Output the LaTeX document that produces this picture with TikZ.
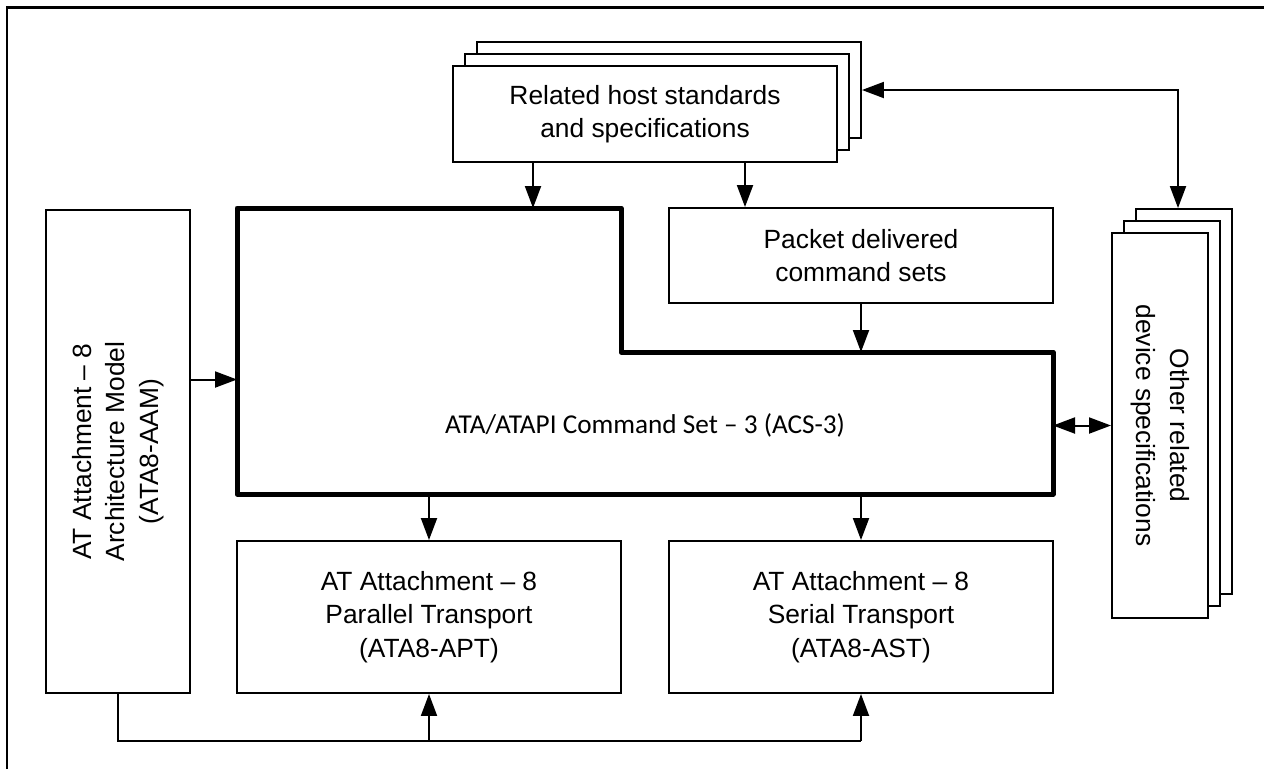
\documentclass[tikz,border=0pt]{standalone}
\usepackage{fontspec}
\usepackage{graphicx}
\usetikzlibrary{calc,shadows,arrows.meta}
\newfontfamily\arialfont{Liberation Sans}
\newfontfamily\calibrifont{Carlito}

\tikzset{
	box/.style={draw, fill=white, line width=0.04cm, inner sep=0pt, align=center, font=\arialfont\fontsize{15}{19}\selectfont},
	stack/.style={box, double copy shadow={shadow xshift=0.24cm, shadow yshift=0.24cm}},
	arr/.style={line width=0.04cm, -{Triangle[length=0.44cm, width=0.32cm]}},
	dblarr/.style={line width=0.04cm, {Triangle[length=0.44cm, width=0.32cm]}-{Triangle[length=0.44cm, width=0.32cm]}}
}

\begin{document}
\begin{tikzpicture}[x=0.02cm, y=-0.02cm]
\useasboundingbox (0,0) rectangle (1264,769);

% Frame
\draw[line width=0.06cm] (7,769) -- (7,7) -- (1264,7);

% Stacked documents
\node[stack, minimum width=7.68cm, minimum height=1.92cm] (host) at (645,114) {Related host standards\\and specifications};
\node[stack, minimum width=1.92cm, minimum height=7.7cm] (other) at (1160,425.5) {\rotatebox{-90}{\begin{tabular}{@{}c@{}}Other related\\device specifications\end{tabular}}};

% Boxes
\node[box, minimum width=7.68cm, minimum height=1.9cm] (packet) at (861,255.5) {Packet delivered\\command sets};
\node[box, minimum width=2.88cm, minimum height=9.66cm] (aam) at (118,451.5) {\rotatebox{90}{\begin{tabular}{@{}c@{}}AT Attachment – 8\\Architecture Model\\(ATA8-AAM)\end{tabular}}};
\node[box, minimum width=7.68cm, minimum height=3.04cm] (apt) at (429,617) {AT Attachment – 8\\Parallel Transport\\(ATA8-APT)};
\node[box, minimum width=7.68cm, minimum height=3.04cm] (ast) at (861,617) {AT Attachment – 8\\Serial Transport\\(ATA8-AST)};

% Command set outline
\coordinate (acsNW) at (237,208);
\coordinate (acsN) at (621,208);
\coordinate (acsNotch) at (621,352);
\coordinate (acsE) at (1053,352);
\coordinate (acsSE) at (1053,494);
\coordinate (acsSW) at (237,494);
\draw[line width=0.1cm, line join=round] (acsSW) -- (acsNW) -- (acsN) -- (acsNotch) -- (acsE) -- (acsSE) -- cycle;
\node[font=\calibrifont\fontsize{15.5}{19}\selectfont] (acs) at (645,425) {ATA/ATAPI Command Set – 3 (ACS-3)};

% Connections
\coordinate (h1) at ($(host.south)+(-112,0)$);
\coordinate (h2) at ($(host.south)+(100,0)$);
\draw[arr] (h1) -- (h1 |- acsNW);
\draw[arr] (h2) -- (h2 |- packet.north);
\draw[arr] (packet.south) -- (packet.south |- acsE);
\coordinate (a1) at ($(aam.east)+(0,-72)$);
\draw[arr] (a1) -- (a1 -| acsNW);
\draw[arr] (apt.north |- acsSW) -- (apt.north);
\draw[arr] (ast.north |- acsSW) -- (ast.north);
\draw[dblarr] (acsE |- other.west) -- (other.west);
\coordinate (hR) at ($(host.east)+(24,-24)$);
\coordinate (oT) at ($(other.north)+(18,-24)$);
\draw[dblarr] (hR) -| (oT);

% Bottom bus
\coordinate (bus) at ($(aam.south)+(0,47)$);
\draw[line width=0.04cm] (aam.south) -- (bus) -- (bus -| ast.south);
\draw[arr] (bus -| apt.south) -- (apt.south);
\draw[arr] (bus -| ast.south) -- (ast.south);
\end{tikzpicture}
\end{document}
